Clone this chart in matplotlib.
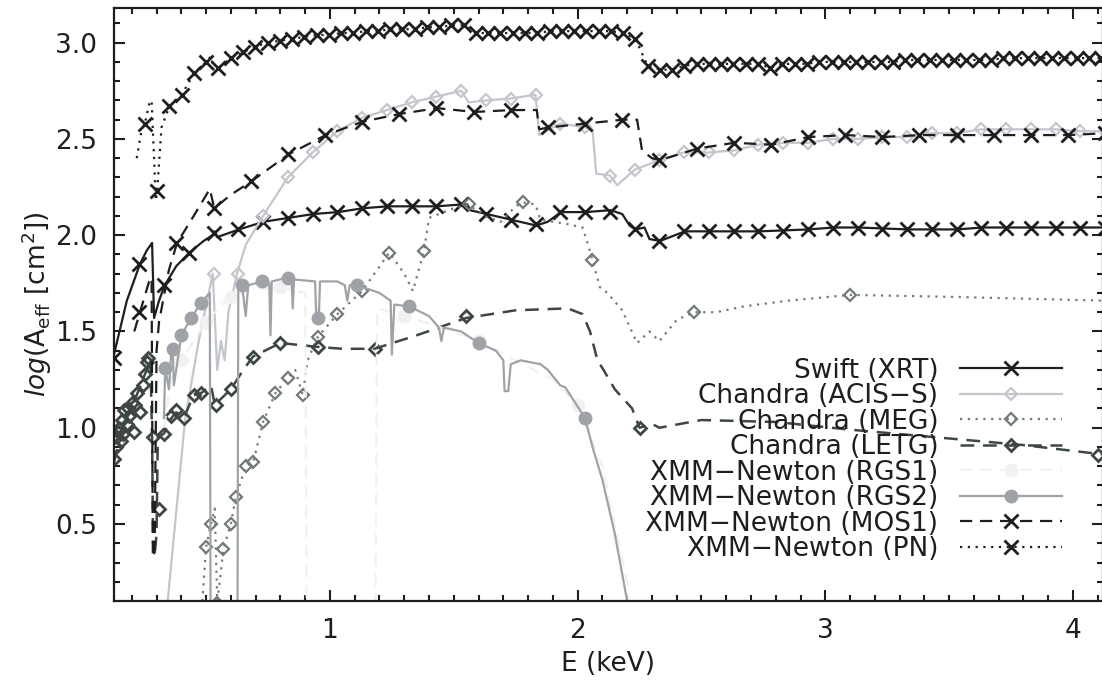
import numpy as np
import matplotlib
matplotlib.use("Agg")
import matplotlib.pyplot as plt
from matplotlib.lines import Line2D

# ---- Swift XRT ----
xrt_line_E = [0.128, 0.18, 0.233, 0.26, 0.282, 0.29, 0.31, 0.333, 0.38, 0.433,
              0.49, 0.525, 0.535, 0.545, 0.633, 0.733, 0.833, 0.933, 1.033, 1.133,
              1.233, 1.333, 1.433, 1.533, 1.555, 1.565, 1.633, 1.733, 1.833, 1.88,
              1.933, 2.033, 2.133, 2.18, 2.21, 2.233, 2.27, 2.29, 2.333, 2.433,
              2.533, 2.733, 2.933, 3.033, 3.133, 3.333, 3.533, 3.633, 3.833, 4.133]
xrt_line_y = [1.38, 1.66, 1.85, 1.92, 1.96, 1.57, 1.66, 1.74, 1.84, 1.91,
              1.97, 2.00, 2.02, 1.99, 2.03, 2.07, 2.09, 2.11, 2.12, 2.14,
              2.15, 2.15, 2.15, 2.16, 2.16, 2.13, 2.11, 2.08, 2.05, 2.07,
              2.12, 2.12, 2.13, 2.11, 2.05, 2.03, 2.04, 1.98, 1.97, 2.02,
              2.02, 2.02, 2.03, 2.04, 2.04, 2.03, 2.03, 2.04, 2.04, 2.04]
xrt_mk_E = np.linspace(0.13, 4.13, 41)
xrt_mk_y = [1.36, 1.85, 1.74, 1.91, 2.01, 2.03, 2.07, 2.09, 2.11, 2.12,
            2.14, 2.15, 2.15, 2.15, 2.16, 2.11, 2.08, 2.06, 2.12, 2.12,
            2.12, 2.03, 1.97, 2.02, 2.02, 2.02, 2.02, 2.02, 2.03, 2.04,
            2.04, 2.03, 2.03, 2.03, 2.03, 2.04, 2.04, 2.04, 2.04, 2.04,
            2.04]

# ---- Chandra ACIS-S ----
acis_line_E = [0.345, 0.415, 0.47, 0.527, 0.545, 0.56, 0.575, 0.59, 0.625, 0.66,
               0.73, 0.83, 0.93, 1.03, 1.13, 1.23, 1.33, 1.43, 1.53, 1.56,
               1.63, 1.73, 1.83, 1.845, 1.93, 2.03, 2.06, 2.075, 2.13, 2.16,
               2.23, 2.33, 2.43, 2.53, 2.63, 2.73, 2.83, 2.93, 3.03, 3.13,
               3.23, 3.33, 3.43, 3.53, 3.63, 3.73, 3.83, 3.93, 4.03, 4.13]
acis_line_y = [0.10, 1.04, 1.45, 1.80, 1.30, 1.45, 1.35, 1.60, 1.80, 1.95,
               2.10, 2.30, 2.43, 2.54, 2.61, 2.65, 2.69, 2.72, 2.75, 2.69,
               2.70, 2.71, 2.73, 2.52, 2.58, 2.56, 2.55, 2.32, 2.31, 2.26,
               2.34, 2.39, 2.43, 2.43, 2.44, 2.47, 2.48, 2.48, 2.50, 2.50,
               2.51, 2.51, 2.53, 2.53, 2.55, 2.55, 2.55, 2.55, 2.54, 2.54]
acis_mk_E = np.linspace(0.53, 4.13, 37)
acis_mk_y = [1.80, 1.80, 2.10, 2.30, 2.43, 2.54, 2.61, 2.65, 2.69, 2.72,
             2.75, 2.70, 2.71, 2.73, 2.58, 2.56, 2.31, 2.34, 2.39, 2.43,
             2.43, 2.44, 2.47, 2.48, 2.48, 2.50, 2.50, 2.51, 2.51, 2.53,
             2.53, 2.55, 2.55, 2.55, 2.55, 2.54, 2.54]

# ---- Chandra MEG ----
meg_line_E = [0.485, 0.50, 0.52, 0.535, 0.545, 0.555, 0.57, 0.60, 0.62, 0.66,
              0.69, 0.73, 0.78, 0.83, 0.86, 0.89, 0.91, 0.95, 1.03, 1.13,
              1.24, 1.30, 1.335, 1.38, 1.40, 1.50, 1.56, 1.62, 1.69, 1.75,
              1.78, 1.83, 1.85, 1.95, 2.02, 2.04, 2.06, 2.09, 2.12, 2.18,
              2.24, 2.29, 2.33, 2.40, 2.47, 2.56, 2.67, 2.85, 3.10, 3.50,
              4.13]
meg_line_y = [0.10, 0.38, 0.50, 0.58, 0.10, 0.20, 0.37, 0.50, 0.64, 0.80,
              0.82, 1.03, 1.18, 1.26, 1.30, 1.17, 1.35, 1.47, 1.59, 1.71,
              1.91, 1.80, 1.71, 1.92, 2.09, 2.14, 2.16, 2.10, 2.07, 2.15,
              2.17, 2.16, 2.08, 2.06, 2.04, 1.96, 1.87, 1.73, 1.70, 1.61,
              1.44, 1.50, 1.45, 1.56, 1.60, 1.60, 1.63, 1.66, 1.69, 1.68,
              1.66]
meg_mk_E = [0.50, 0.52, 0.545, 0.57, 0.60, 0.62, 0.66, 0.69, 0.73, 0.78, 0.83,
            0.89, 0.95, 1.03, 1.13, 1.24, 1.38, 1.56, 1.78, 2.06, 2.47, 3.10]
meg_mk_y = [0.38, 0.50, 0.09, 0.37, 0.50, 0.64, 0.80, 0.82, 1.03, 1.18, 1.26,
            1.17, 1.47, 1.59, 1.71, 1.91, 1.92, 2.16, 2.17, 1.87, 1.60, 1.69]

# ---- Chandra LETG ----
letg_line_E = [0.128, 0.15, 0.18, 0.22, 0.26, 0.275, 0.282, 0.286, 0.292, 0.30,
               0.305, 0.33, 0.36, 0.38, 0.41, 0.45, 0.48, 0.52, 0.535, 0.56,
               0.60, 0.65, 0.69, 0.80, 0.95, 1.05, 1.18, 1.35, 1.55, 1.75,
               1.96, 2.02, 2.05, 2.08, 2.10, 2.15, 2.22, 2.25, 2.30, 2.33,
               2.50, 2.80, 3.10, 3.45, 3.80, 4.13]
letg_line_y = [0.82, 0.93, 1.05, 1.17, 1.30, 1.36, 0.95, 0.40, 0.33, 0.45,
               0.95, 0.97, 1.05, 1.08, 1.05, 1.17, 1.18, 1.22, 1.12, 1.15,
               1.20, 1.30, 1.37, 1.44, 1.42, 1.41, 1.41, 1.48, 1.57, 1.61,
               1.62, 1.59, 1.50, 1.35, 1.31, 1.20, 1.10, 1.00, 1.02, 1.00,
               1.04, 1.03, 0.99, 0.95, 0.91, 0.86]
letg_mk_E = [0.13, 0.135, 0.14, 0.145, 0.15, 0.155, 0.16, 0.165, 0.17, 0.18,
             0.185, 0.19, 0.20, 0.21, 0.215, 0.22, 0.235, 0.245, 0.255, 0.26,
             0.265, 0.285, 0.31, 0.33, 0.36, 0.38, 0.41, 0.45, 0.48, 0.54,
             0.60, 0.69, 0.80, 0.95, 1.18, 1.55, 2.25, 4.10]
letg_mk_y = [0.84, 0.90, 0.95, 0.98, 1.00, 0.93, 1.04, 0.97, 1.09, 1.02,
             1.10, 1.06, 1.13, 0.98, 1.12, 1.18, 1.08, 1.22, 1.28, 1.34,
             1.36, 0.95, 0.58, 0.97, 1.06, 1.09, 1.05, 1.17, 1.18, 1.12,
             1.20, 1.37, 1.44, 1.42, 1.41, 1.58, 1.00, 0.86]

# ---- XMM-Newton RGS1 (nearly white) ----
rgs1_line_E = [0.33, 0.36, 0.40, 0.45, 0.50, 0.55, 0.60, 0.70, 0.80, 0.90, 0.91,
               1.18, 1.19, 1.30, 1.45, 1.60, 1.75, 1.90, 2.00, 2.10, 2.20, 2.23]
rgs1_line_y = [1.00, 1.25, 1.35, 1.45, 1.55, 1.62, 1.68, 1.72, 1.73, 1.70, -1.0,
               -1.0, 1.62, 1.58, 1.52, 1.45, 1.35, 1.25, 1.12, 0.80, 0.20, -0.3]
rgs1_mk_E = [0.40, 0.50, 0.60, 0.80, 1.30, 1.60, 2.00]
rgs1_mk_y = [1.35, 1.55, 1.68, 1.73, 1.58, 1.45, 1.12]

# ---- XMM-Newton RGS2 ----
rgs2_line_E = [0.33, 0.335, 0.35, 0.36, 0.365, 0.37, 0.40, 0.44, 0.48, 0.50,
               0.515, 0.52, 0.625, 0.63, 0.645, 0.66, 0.67, 0.73, 0.755, 0.76,
               0.765, 0.83, 0.845, 0.85, 0.855, 0.94, 0.945, 0.955, 0.96, 1.03,
               1.06, 1.07, 1.08, 1.11, 1.20, 1.245, 1.25, 1.26, 1.32, 1.40,
               1.44, 1.45, 1.46, 1.53, 1.60, 1.67, 1.70, 1.705, 1.72, 1.73,
               1.77, 1.85, 1.88, 1.93, 1.95, 2.00, 2.03, 2.06, 2.10, 2.15,
               2.20, 2.23]
rgs2_line_y = [1.05, 1.31, 1.20, 1.41, 1.41, 1.22, 1.48, 1.57, 1.65, 1.68,
               1.70, -1.0, -1.0, 1.72, 1.74, 1.58, 1.74, 1.76, 1.75, 1.48,
               1.76, 1.78, 1.77, 1.62, 1.77, 1.76, 1.57, 1.57, 1.76, 1.76,
               1.74, 1.66, 1.74, 1.74, 1.70, 1.66, 1.38, 1.64, 1.63, 1.58,
               1.52, 1.45, 1.52, 1.50, 1.44, 1.40, 1.35, 1.19, 1.19, 1.33,
               1.35, 1.33, 1.30, 1.22, 1.21, 1.11, 1.05, 0.90, 0.73, 0.45,
               0.10, -0.3]
rgs2_mk_E = [0.335, 0.365, 0.40, 0.44, 0.48, 0.645, 0.725, 0.83, 0.95, 1.11,
             1.32, 1.60, 2.03]
rgs2_mk_y = [1.31, 1.41, 1.48, 1.57, 1.65, 1.74, 1.76, 1.78, 1.57, 1.74,
             1.63, 1.44, 1.05]

# ---- XMM-Newton MOS1 ----
mos_line_E = [0.21, 0.233, 0.27, 0.28, 0.285, 0.292, 0.30, 0.31, 0.35, 0.383,
              0.45, 0.515, 0.533, 0.60, 0.683, 0.833, 0.983, 1.133, 1.283, 1.433,
              1.583, 1.733, 1.835, 1.845, 1.883, 2.033, 2.183, 2.24, 2.26, 2.30,
              2.333, 2.483, 2.633, 2.783, 2.933, 3.083, 3.233, 3.383, 3.533, 3.683,
              3.833, 3.983, 4.133]
mos_line_y = [1.50, 1.60, 1.76, 1.78, 0.35, 0.33, 1.40, 1.55, 1.82, 1.96,
              2.10, 2.24, 2.14, 2.21, 2.28, 2.42, 2.52, 2.59, 2.63, 2.66,
              2.64, 2.65, 2.65, 2.55, 2.56, 2.58, 2.60, 2.60, 2.44, 2.40,
              2.39, 2.45, 2.48, 2.47, 2.51, 2.52, 2.51, 2.52, 2.52, 2.52,
              2.52, 2.52, 2.53]
mos_mk_E = np.linspace(0.23, 4.13, 27)
mos_mk_y = [1.60, 1.96, 2.14, 2.28, 2.42, 2.52, 2.59, 2.63, 2.66, 2.64,
            2.65, 2.56, 2.58, 2.60, 2.39, 2.45, 2.48, 2.47, 2.51, 2.52,
            2.51, 2.52, 2.52, 2.52, 2.52, 2.52, 2.53]

# ---- XMM-Newton PN ----
pn_mk_E = np.linspace(0.253, 4.114, 79)
pn_mk_y = [2.58, 2.23, 2.67, 2.73, 2.84, 2.90, 2.87, 2.92, 2.95, 2.98,
           3.00, 3.01, 3.02, 3.03, 3.04, 3.04, 3.05, 3.05, 3.06, 3.06,
           3.07, 3.07, 3.07, 3.08, 3.08, 3.09, 3.09, 3.05, 3.05, 3.05,
           3.05, 3.05, 3.05, 3.06, 3.06, 3.06, 3.06, 3.06, 3.06, 3.05,
           3.02, 2.88, 2.86, 2.86, 2.88, 2.89, 2.89, 2.89, 2.89, 2.89,
           2.89, 2.87, 2.89, 2.89, 2.89, 2.90, 2.90, 2.90, 2.90, 2.90,
           2.90, 2.90, 2.91, 2.91, 2.91, 2.91, 2.91, 2.91, 2.91, 2.91,
           2.92, 2.92, 2.92, 2.92, 2.92, 2.92, 2.92, 2.92, 2.92]
pn_extra_E = [0.22, 0.24, 0.27, 0.28, 0.29, 0.297, 0.32, 0.52, 0.53]
pn_extra_y = [2.40, 2.55, 2.68, 2.70, 2.40, 2.18, 2.56, 2.93, 2.86]

labels = ["Swift (XRT)", "Chandra (ACIS\u2212S)", "Chandra (MEG)", "Chandra (LETG)",
          "XMM\u2212Newton (RGS1)", "XMM\u2212Newton (RGS2)", "XMM\u2212Newton (MOS1)",
          "XMM\u2212Newton (PN)"]

# dotted line of PN: markers plus the extra dip points, sorted by energy
pn_all_E = np.concatenate([pn_mk_E, pn_extra_E])
pn_all_y = np.concatenate([pn_mk_y, pn_extra_y])
order = np.argsort(pn_all_E)

series = [
    (xrt_line_E, xrt_line_y, xrt_mk_E, xrt_mk_y),
    (acis_line_E, acis_line_y, acis_mk_E, acis_mk_y),
    (meg_line_E, meg_line_y, meg_mk_E, meg_mk_y),
    (letg_line_E, letg_line_y, letg_mk_E, letg_mk_y),
    (rgs1_line_E, rgs1_line_y, rgs1_mk_E, rgs1_mk_y),
    (rgs2_line_E, rgs2_line_y, rgs2_mk_E, rgs2_mk_y),
    (mos_line_E, mos_line_y, mos_mk_E, mos_mk_y),
    (pn_all_E[order], pn_all_y[order], pn_mk_E, pn_mk_y),
]

dotted = (0, (1, 2.5))
dashed = (0, (5.5, 3.5))
styles = [
    dict(color="#1e1e1e", ls="-", lw=1.6, marker="x", ms=10, mew=2.0, mfc="none"),
    dict(color="#c3c6cc", ls="-", lw=1.6, marker="D", ms=6.5, mew=1.6, mfc="none"),
    dict(color="#737a7a", ls=dotted, lw=1.6, marker="D", ms=6.5, mew=1.6, mfc="none"),
    dict(color="#3e4646", ls=dashed, lw=1.8, marker="D", ms=6.5, mew=2.0, mfc="none"),
    dict(color="#f1f1f1", ls=dashed, lw=1.6, marker="o", ms=9, mew=1.0, mfc="#f1f1f1"),
    dict(color="#9fa3a8", ls="-", lw=1.6, marker="o", ms=9, mew=1.0, mfc="#9fa3a8"),
    dict(color="#1e1e1e", ls=dashed, lw=1.6, marker="x", ms=10, mew=2.0, mfc="none"),
    dict(color="#1e1e1e", ls=dotted, lw=1.6, marker="x", ms=10, mew=2.0, mfc="none"),
]

plt.rcParams["font.family"] = "DejaVu Sans"
plt.rcParams["mathtext.fontset"] = "dejavusans"

fig = plt.figure(figsize=(11.02, 6.85), dpi=100)
ax = fig.add_axes([0.1034, 0.1226, 0.8975, 0.8657])

handles = []
for (lE, ly, mE, my), st, lab in zip(series, styles, labels):
    ax.plot(lE, ly, color=st["color"], ls=st["ls"], lw=st["lw"])
    ax.plot(mE, my, ls="none", color=st["color"], marker=st["marker"],
            ms=st["ms"], mew=st["mew"], mfc=st["mfc"], mec=st["color"])
    handles.append(Line2D([], [], color=st["color"], ls=st["ls"], lw=st["lw"],
                          marker=st["marker"], ms=st["ms"], mew=st["mew"],
                          mfc=st["mfc"], mec=st["color"]))

ax.set_xlim(0.128, 4.121)
ax.set_ylim(0.10, 3.18)

ax.set_xticks([1, 2, 3, 4])
ax.set_xticklabels(["1", "2", "3", "4"])
ax.set_xticks(np.arange(0.2, 4.15, 0.1), minor=True)
ax.set_yticks([0.5, 1.0, 1.5, 2.0, 2.5, 3.0])
ax.set_yticklabels(["0.5", "1.0", "1.5", "2.0", "2.5", "3.0"])
ax.set_yticks(np.arange(0.2, 3.15, 0.1), minor=True)
ax.tick_params(which="both", direction="in", top=True, right=True, width=1.5,
               color="#1e1e1e")
ax.tick_params(which="major", length=8, labelsize=19, pad=12, labelcolor="#1e1e1e")
ax.tick_params(which="minor", length=4)
for s in ax.spines.values():
    s.set_linewidth(1.6)
    s.set_color("#1e1e1e")

ax.set_xlabel("E (keV)", fontsize=19, labelpad=5, color="#1e1e1e")
ax.set_ylabel(r"$\mathit{log}$(A$_{\rm eff}$ [cm$^2$])", fontsize=19, labelpad=1,
              color="#1e1e1e")

ax.legend(handles, labels, loc="center right", bbox_to_anchor=(0.9585, 0.238),
          frameon=False, markerfirst=False, numpoints=1, handlelength=3.86,
          handletextpad=0.83, labelspacing=-0.02, borderpad=0, borderaxespad=0,
          fontsize=19, labelcolor="#1e1e1e")

fig.savefig("out.png", dpi=100)
